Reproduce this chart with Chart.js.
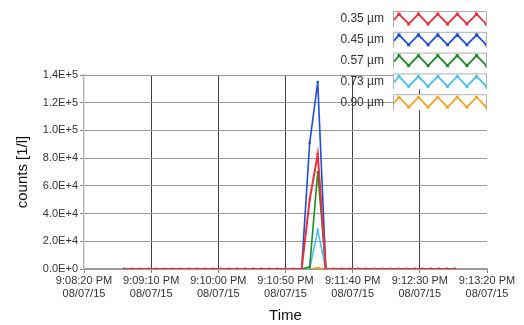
<!DOCTYPE html>
<html>
<head>
<meta charset="utf-8">
<script src="https://cdn.jsdelivr.net/npm/chart.js@4.4.1/dist/chart.umd.min.js"></script>
<style>
  html, body { margin: 0; padding: 0; background: #fff; }
  #wrap { width: 524px; height: 325px; }
</style>
</head>
<body>
<div id="wrap"><canvas id="chart" width="524" height="325"></canvas></div>
<script>
// seconds after 9:08:20 PM, one sample every 6 s
const sampleStart = 30;
const sampleStep = 6;
const sampleCount = 42;

// size channels, top of legend first
const sizeLabels = ['0.35 µm', '0.45 µm', '0.57 µm', '0.73 µm', '0.90 µm'];
const sizeColors = ['#e8323c', '#1f4fd6', '#1f8a2a', '#4cc0ee', '#f2a52a'];

// the only non-zero samples (index 23 and 24), everything else is 0
const peak035 = { 23: 50000, 24: 83000 };
const peak045 = { 23: 91000, 24: 135000 };
const peak057 = { 23: 1500, 24: 70000 };
const peak073 = { 23: 0, 24: 28000 };
const peak090 = { 23: 0, 24: 800 };

// axis tick labels
const xTickTimes = ['9:08:20 PM', '9:09:10 PM', '9:10:00 PM', '9:10:50 PM', '9:11:40 PM', '9:12:30 PM', '9:13:20 PM'];
const xTickDate = '08/07/15';

function buildSeries(peaks) {
    const pts = [];
    for (let i = 0; i < sampleCount; i++) {
        pts.push({ x: sampleStart + i * sampleStep, y: peaks[i] || 0 });
    }
    return pts;
}

const allPeaks = [peak035, peak045, peak057, peak073, peak090];

const datasets = sizeLabels.map((label, k) => ({
    label: label,
    data: buildSeries(allPeaks[k]),
    borderColor: sizeColors[k],
    backgroundColor: sizeColors[k],
    borderWidth: k === 0 ? 2 : 1.6,
    pointRadius: 1.6,
    pointStyle: 'rect',
    pointBorderWidth: 0,
    tension: 0
}));

// legend drawn by hand: label text + zigzag swatch in a grey box
const zigLegend = {
    id: 'zigLegend',
    afterDraw(chart) {
        const ctx = chart.ctx;
        ctx.save();
        sizeLabels.forEach((label, k) => {
            const cy = 19 + k * 20.8;
            const bx = 393, bw = 94, top = cy - 8, bh = 16;
            ctx.fillStyle = '#fff';
            ctx.fillRect(bx, top, bw, bh);
            ctx.strokeStyle = '#b0b0b0';
            ctx.lineWidth = 1;
            ctx.beginPath();
            ctx.moveTo(bx + 0.5, top + bh);
            ctx.lineTo(bx + 0.5, top + 0.5);
            ctx.lineTo(bx + bw - 0.5, top + 0.5);
            ctx.lineTo(bx + bw - 0.5, top + bh);
            ctx.stroke();

            ctx.fillStyle = '#333';
            ctx.font = '12px "Liberation Sans", Arial, sans-serif';
            ctx.textAlign = 'right';
            ctx.textBaseline = 'middle';
            ctx.fillText(label, 384, cy);

            // zigzag, clipped to the box
            ctx.save();
            ctx.beginPath();
            ctx.rect(bx + 1, top + 1, bw - 2, bh - 1);
            ctx.clip();
            const hi = cy - 5, lo = cy + 5;
            const pts = [[bx + 1, cy + 1]];
            let x = bx + 6, up = true;
            pts.push([x, hi]);
            while (x < bx + bw + 10) {
                x += 9.7;
                up = !up;
                pts.push([x, up ? hi : lo]);
            }
            ctx.strokeStyle = sizeColors[k];
            ctx.lineWidth = 1.8;
            ctx.beginPath();
            pts.forEach((p, j) => j ? ctx.lineTo(p[0], p[1]) : ctx.moveTo(p[0], p[1]));
            ctx.stroke();
            ctx.fillStyle = sizeColors[k];
            pts.slice(1).forEach(p => ctx.fillRect(p[0] - 1.5, p[1] - 1.5, 3, 3));
            ctx.restore();
        });
        ctx.restore();
    }
};

const ctx = document.getElementById('chart').getContext('2d');
const countsChart = new Chart(ctx, {
    type: 'line',
    data: { datasets: datasets },
    options: {
        responsive: false,
        animation: false,
        layout: { padding: { top: 75, right: 37, left: 0, bottom: 0 } },
        plugins: {
            legend: { display: false },
            tooltip: { enabled: false }
        },
        scales: {
            x: {
                type: 'linear',
                min: 0,
                max: 300,
                ticks: {
                    stepSize: 50,
                    maxRotation: 0,
                    autoSkip: false,
                    color: '#333',
                    padding: 1,
                    font: { family: '"Liberation Sans", Arial, sans-serif', size: 11 },
                    callback: (v) => {
                        const idx = Math.round(v / 50);
                        return [xTickTimes[idx], xTickDate];
                    }
                },
                grid: {
                    color: (c) => c.index === 0 || c.index === 6 ? 'rgba(0,0,0,0)' : '#404040',
                    tickColor: '#808080',
                    tickLength: 4,
                    drawOnChartArea: true
                },
                border: { color: '#9a9a9a', width: 1.5 },
                title: {
                    display: true,
                    text: 'Time',
                    color: '#111',
                    padding: { top: 4, bottom: 0 },
                    font: { family: '"Liberation Sans", Arial, sans-serif', size: 15 }
                },
                afterFit: (s) => { s.height = 56; }
            },
            y: {
                min: 0,
                max: 140000,
                ticks: {
                    stepSize: 20000,
                    color: '#333',
                    padding: 2,
                    font: { family: '"Liberation Sans", Arial, sans-serif', size: 11 },
                    callback: (v) => Number(v).toExponential(1).toUpperCase()
                },
                grid: {
                    color: '#9a9a9a',
                    tickColor: '#808080',
                    tickLength: 4
                },
                border: { color: '#b8b8b8', width: 1.5 },
                title: {
                    display: true,
                    text: 'counts [1/l]',
                    color: '#111',
                    padding: { top: 14, bottom: 0 },
                    font: { family: '"Liberation Sans", Arial, sans-serif', size: 15 }
                },
                afterFit: (s) => { s.width = 84; }
            }
        }
    },
    plugins: [zigLegend]
});
</script>
</body>
</html>
